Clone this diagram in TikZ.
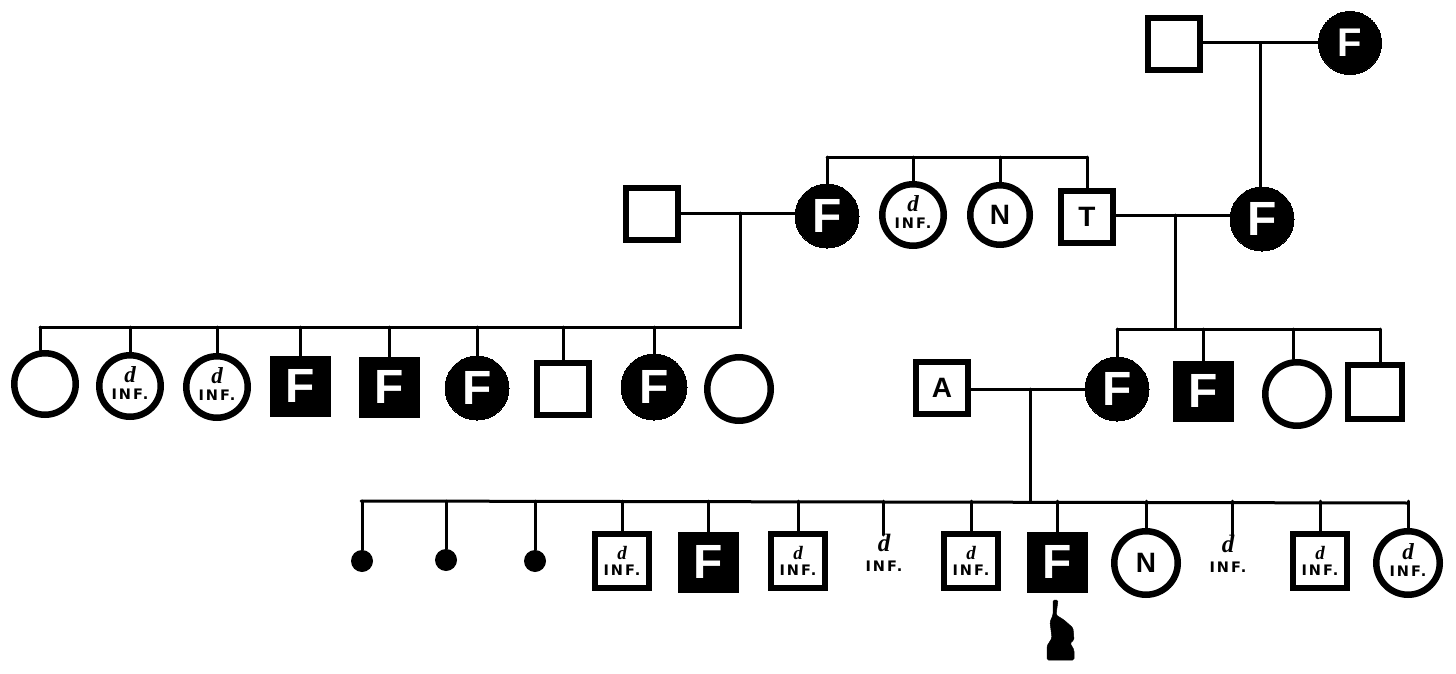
\documentclass[tikz,border=0pt]{standalone}
\usepackage{fontspec}
\setmainfont{Liberation Sans}
\newfontfamily\dfam{Liberation Serif}[ItalicFont=Liberation Serif Italic,BoldItalicFont=Liberation Serif Bold Italic]
\newfontfamily\inffam{DejaVu Sans}[BoldFont=DejaVu Sans Bold,LetterSpace=14]
% #1 size of the d, #2 gap between d and INF., #3 space kept below
\newcommand{\dinfbase}[3]{\vbox{\offinterlineskip\halign{\hfil##\hfil\cr
  \fontsize{#1}{#1}\selectfont\dfam\itshape\bfseries d\cr\noalign{\kern#2}
  \fontsize{14.5}{15}\selectfont\inffam\bfseries INF.\cr\noalign{\kern#3}}}}
\newcommand{\dinfsq}{\dinfbase{19}{5pt}{0pt}}
\newcommand{\dinfci}{\dinfbase{23}{6pt}{6pt}}
\newcommand{\dinfpl}{\dinfbase{25}{9pt}{0pt}}
\tikzset{
  x=1pt,y=-1pt,
  sq/.style={draw=black,rectangle,line width=6pt,minimum size=#1-6pt,inner sep=0pt,fill=white,font=\fontsize{28}{28}\selectfont\bfseries},
  sq/.default=58pt,
  ci/.style={draw=black,circle,line width=6.5pt,minimum size=#1-6.5pt,inner sep=0pt,fill=white,font=\fontsize{28}{28}\selectfont\bfseries},
  ci/.default=68pt,
  fsq/.style={draw=black,rectangle,line width=0pt,minimum size=60pt,inner sep=0pt,fill=black,text=white,font=\fontsize{48}{48}\selectfont\bfseries},
  fci/.style={draw=black,circle,line width=0pt,minimum size=#1,inner sep=0pt,fill=black,text=white,font=\fontsize{48}{48}\selectfont\bfseries},
  fci/.default=64pt,
  dot/.style={circle,fill=black,minimum size=22pt,inner sep=0pt},
  plain/.style={inner sep=0pt},
  ln/.style={line width=3pt,line cap=round},
  hand/.style={fill=black,draw=black,line width=0.5pt}
}
\begin{document}
\begin{tikzpicture}
\useasboundingbox (0,0) rectangle (1456,674);
\coordinate (t0) at (1260,43);
\coordinate (s2l) at (825,157); \coordinate (s2r) at (1087,157);
\coordinate (j2a) at (740,213); \coordinate (j2b) at (1175,215);
\coordinate (s3l) at (40,327); \coordinate (s3m) at (740,327);
\coordinate (s3r) at (1117,329); \coordinate (s3e) at (1380,329);
\coordinate (j3) at (1030,389);
\coordinate (s4l) at (361,501); \coordinate (s4r) at (1408,503);
\coordinate (s4m) at (1030,501);
% generation 1
\node[sq] (g1a) at (1174,44) {};
\node[fci=63pt] (g1b) at (1350,43) {\fontsize{40}{40}\selectfont F};
% generation 2
\node[sq] (g2a) at (652,214) {};
\node[fci] (g2b) at (827,216) {F};
\node[ci] (g2c) at (913,215) {\dinfci};
\node[ci=66pt] (g2d) at (1000,215) {N};
\node[sq] (g2e) at (1087,217) {T};
\node[fci] (g2f) at (1262,219) {F};
% generation 3 left
\node[ci] (a1) at (45,384) {};
\node[ci] (a2) at (130,386) {\dinfci};
\node[ci] (a3) at (217,387) {\dinfci};
\node[fsq] (a4) at (300,386) {F};
\node[fsq] (a5) at (389,387) {F};
\node[fci] (a6) at (477,388) {F};
\node[sq] (a7) at (563,389) {};
\node[fci=66pt] (a8) at (654,387) {F};
\node[ci=70pt] (a9) at (739,389) {};
% generation 3 right
\node[sq] (b0) at (942,388) {A};
\node[fci] (b1) at (1117,389) {F};
\node[fsq] (b2) at (1203,391) {F};
\node[ci=70pt] (b3) at (1297,394) {};
\node[sq=60pt] (b4) at (1375,392) {};
% generation 4
\node[dot] (c1) at (362,561) {};
\node[dot] (c2) at (446,560) {};
\node[dot] (c3) at (535,561) {};
\node[sq=60pt] (c4) at (622,561) {\dinfsq};
\node[fsq] (c5) at (708,562) {F};
\node[sq=60pt] (c6) at (798,561) {\dinfsq};
\node[plain] (c7) at (884,553) {\dinfpl};
\node[sq=60pt] (c8) at (971,561) {\dinfsq};
\node[fsq] (c9) at (1057,562) {F};
\node[ci=70pt] (c10) at (1146,563) {N};
\node[plain] (c11) at (1228,554) {\dinfpl};
\node[sq=60pt] (c12) at (1320,561) {\dinfsq};
\node[ci=70pt] (c13) at (1408,563) {\dinfci};
% couple lines
\draw[ln] (g1a.east |- t0) -- (g1b.west |- t0);
\draw[ln] (t0) -- (g2f.north -| t0);
\draw[ln] (g2a.east |- j2a) -- (g2b.west |- j2a);
\draw[ln] (g2e.east |- j2b) -- (g2f.west |- j2b);
\draw[ln] (b0.east |- j3) -- (b1.west |- j3);
% sibling bars
\draw[ln] (g2b.north |- s2l) -- (s2r);
\draw[ln] (s3l) -- (s3m) -- (j2a);
\draw[ln] (s3r) -- (s3e);
\draw[ln] (j2b) -- (j2b |- s3r);
\draw[ln] (s4l) -- (s4r);
\draw[ln] (j3) -- (s4m);
% drops
\foreach \n in {g2b,g2c,g2d,g2e}{\draw[ln] (\n.north) -- (\n.north |- s2l);}
\draw[ln] (s3l) -- (a1.north -| s3l);
\foreach \n in {a2,a3,a4,a5,a6,a7,a8}{\draw[ln] (\n.north) -- (\n.north |- s3l);}
\foreach \n in {b1,b2}{\draw[ln] (\n.north) -- (\n.north |- s3r);}
\draw[ln] ([xshift=-4pt]b3.north) -- ([xshift=-4pt]b3.north |- s3r);
\draw[ln] (s3e) -- (s3e |- b4.north);
\foreach \n in {c1,c2,c3,c4,c5,c6,c8,c9,c10,c12,c13}{\draw[ln] (\n.north) -- (\n.north |- s4l);}
\coordinate (c7t) at (883,535);
\coordinate (c11t) at (1232,535);
\draw[ln] (c7t) -- (c7t |- s4l);
\draw[ln] (c11t) -- (c11t |- s4l);
% pointing hand
\draw[hand,rounded corners=1.5pt] (1053,600) -- (1058,600) -- (1056,615) -- (1064,620) -- (1073,628) -- (1074,640) -- (1070,643) -- (1074,650) -- (1074,660) -- (1047,660) -- (1047,646) -- (1052,638) -- (1050,622) -- (1053,615) -- cycle;
\end{tikzpicture}
\end{document}
